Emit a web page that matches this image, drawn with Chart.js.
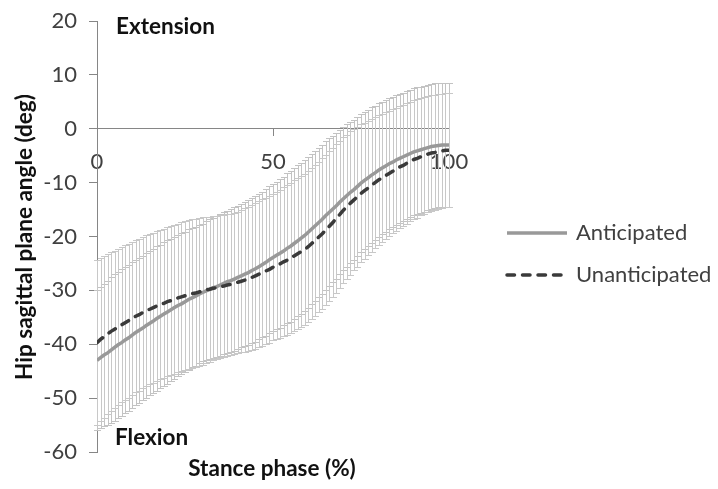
<!DOCTYPE html>
<html>
<head>
<meta charset="utf-8">
<script src="https://cdn.jsdelivr.net/npm/chart.js@4"></script>
<style>
html,body{margin:0;padding:0;background:#fff;}
#wrap{width:718px;height:489px;position:relative;}
</style>
</head>
<body>
<div id="wrap"><canvas id="c" width="718" height="489"></canvas></div>
<script>
// Stance phase 0..100 % (one value per percent)
const antMean = [-43.0,-42.5,-42.0,-41.6,-41.1,-40.6, -40.1,-39.7,-39.2,-38.8,-38.3, -37.8,-37.4,-37.0,-36.5,-36.1, -35.7,-35.2,-34.8,-34.4,-34.0, -33.6,-33.2,-32.8,-32.5,-32.1, -31.7,-31.4,-31.1,-30.7,-30.4, -30.1,-29.8,-29.5,-29.3,-29.0, -28.7,-28.4,-28.2,-27.9,-27.6, -27.3,-27.0,-26.7,-26.3,-26.0, -25.6,-25.2,-24.8,-24.3,-23.9, -23.5,-23.1,-22.7,-22.2,-21.8, -21.3,-20.8,-20.3,-19.8,-19.2, -18.6,-18.0,-17.4,-16.8,-16.1, -15.5,-14.9,-14.3,-13.6,-13.0, -12.4,-11.8,-11.3,-10.7,-10.1, -9.6,-9.1,-8.6,-8.2,-7.7, -7.3,-6.9,-6.5,-6.2,-5.8, -5.5,-5.2,-4.9,-4.6,-4.3, -4.1,-3.9,-3.7,-3.5,-3.3, -3.2,-3.1,-3.0,-3.0,-3.0];
const antSD = [13.0,13.1,13.2,13.4,13.5,13.6, 13.6,13.6,13.5,13.5,13.5, 13.5,13.5,13.4,13.4,13.4, 13.4,13.4,13.3,13.3,13.3, 13.2,13.2,13.1,13.1,13.0, 13.0,12.9,12.9,12.8,12.8, 12.9,13.0,13.0,13.1,13.2, 13.2,13.2,13.3,13.3,13.3, 13.3,13.4,13.4,13.5,13.5, 13.5,13.5,13.6,13.6,13.6, 13.7,13.8,13.8,13.9,14.0, 14.0,14.0,14.0,14.0,14.0, 14.0,13.9,13.9,13.8,13.8, 13.7,13.6,13.5,13.4,13.3, 13.2,13.1,13.0,12.9,12.8, 12.7,12.6,12.6,12.5,12.4, 12.3,12.2,12.2,12.1,12.0, 12.0,11.9,11.9,11.8,11.8, 11.8,11.7,11.7,11.6,11.6, 11.6,11.5,11.5,11.5,11.5];
const unaMean = [-39.7,-39.1,-38.6,-38.1,-37.6,-37.2, -36.8,-36.4,-36.0,-35.6,-35.2, -34.8,-34.5,-34.1,-33.8,-33.5, -33.2,-32.9,-32.6,-32.4,-32.1, -31.9,-31.7,-31.4,-31.2,-31.0, -30.8,-30.6,-30.5,-30.3,-30.1, -29.9,-29.8,-29.6,-29.5,-29.3, -29.2,-29.0,-28.9,-28.7,-28.5, -28.3,-28.1,-27.9,-27.6,-27.3, -27.0,-26.7,-26.4,-26.1,-25.7, -25.4,-25.1,-24.7,-24.4,-24.0, -23.6,-23.2,-22.8,-22.4,-21.9, -21.3,-20.7,-20.1,-19.5,-18.8, -18.1,-17.4,-16.6,-15.9,-15.1, -14.5,-13.8,-13.2,-12.6,-12.0, -11.5,-11.0,-10.5,-10.0,-9.5, -9.1,-8.7,-8.3,-7.9,-7.5, -7.1,-6.8,-6.4,-6.1,-5.7, -5.5,-5.2,-5.0,-4.7,-4.5, -4.4,-4.2,-4.1,-4.0,-4.0];
const unaSD = [15.3,15.2,15.0,14.9,14.7,14.6, 14.5,14.4,14.4,14.3,14.2, 14.1,14.1,14.0,14.0,13.9, 13.9,13.9,13.8,13.8,13.8, 13.8,13.8,13.8,13.8,13.8, 13.8,13.8,13.7,13.7,13.7, 13.6,13.5,13.4,13.3,13.2, 13.2,13.1,13.1,13.1,13.1, 13.2,13.3,13.4,13.5,13.6, 13.6,13.6,13.6,13.6,13.6, 13.7,13.8,13.8,13.9,14.0, 14.0,14.0,14.0,14.0,14.0, 14.0,14.0,14.0,14.0,14.0, 13.9,13.8,13.8,13.7,13.6, 13.4,13.3,13.1,13.0,12.8, 12.6,12.5,12.3,12.2,12.0, 11.9,11.8,11.6,11.5,11.4, 11.3,11.2,11.2,11.1,11.0, 11.0,10.9,10.9,10.8,10.8, 10.7,10.7,10.6,10.6,10.6];

const seriesNames = ['Anticipated', 'Unanticipated'];
const xTickValues = [0, 50, 100];
const yTickMin = -60, yTickMax = 20, yTickStep = 10;
const yTitle = 'Hip sagittal plane angle (deg)';
const xTitle = 'Stance phase (%)';
const topNote = 'Extension';
const bottomNote = 'Flexion';

const FONT = 'Lato, "Open Sans", sans-serif';

const toPts = arr => arr.map((v, i) => ({x: i, y: v}));

const errorBars = {
  id: 'errorBars',
  beforeDatasetsDraw(chart) {
    const {ctx, scales: {x, y}} = chart;
    ctx.save();
    ctx.lineWidth = 1;
    chart.data.datasets.slice().reverse().forEach(ds => {
      ctx.strokeStyle = ds.barColor;
      ctx.beginPath();
      ds.data.forEach((p, i) => {
        const s = ds.sd[i];
        const px = Math.round(x.getPixelForValue(p.x)) + 0.5;
        const yt = Math.round(y.getPixelForValue(p.y + s)) + 0.5;
        const yb = Math.round(y.getPixelForValue(p.y - s)) + 0.5;
        ctx.moveTo(px, yt); ctx.lineTo(px, yb);
        ctx.moveTo(px - 3.5, yt); ctx.lineTo(px + 3.5, yt);
        ctx.moveTo(px - 3.5, yb); ctx.lineTo(px + 3.5, yb);
      });
      ctx.stroke();
    });
    ctx.restore();
  }
};

const overlay = {
  id: 'overlay',
  afterDraw(chart) {
    const {ctx} = chart;
    ctx.save();
    ctx.fillStyle = '#111';
    ctx.font = 'bold 22.5px ' + FONT;
    ctx.textBaseline = 'middle';
    ctx.textAlign = 'left';
    ctx.fillText(topNote, 116, 27);
    ctx.fillText(bottomNote, 115, 438);
    ctx.textAlign = 'center';
    ctx.fillText(xTitle, 272, 469);
    ctx.save();
    ctx.font = 'bold 22.5px ' + FONT;
    ctx.translate(25, 237);
    ctx.rotate(-Math.PI / 2);
    ctx.fillText(yTitle, 0, 0);
    ctx.restore();

    // legend
    const items = [
      {ds: chart.data.datasets[1], y: 233},
      {ds: chart.data.datasets[0], y: 275}
    ];
    items.forEach(it => {
      ctx.save();
      ctx.strokeStyle = it.ds.borderColor;
      ctx.lineWidth = it.ds.borderWidth;
      ctx.lineCap = it.ds.borderCapStyle || 'butt';
      ctx.setLineDash(it.ds.borderDash || []);
      ctx.beginPath();
      ctx.moveTo(507, it.y); ctx.lineTo(567, it.y);
      ctx.stroke();
      ctx.restore();
      ctx.fillStyle = '#404040';
      ctx.font = '22px ' + FONT;
      ctx.textAlign = 'left';
      ctx.fillText(it.ds.label, 576, it.y);
    });
    ctx.restore();
  }
};

new Chart(document.getElementById('c'), {
  type: 'line',
  data: {
    datasets: [
      {
        label: seriesNames[1],
        data: toPts(unaMean),
        sd: unaSD,
        barColor: '#c8c8c8',
        borderColor: '#3a3a3a',
        borderWidth: 3.5,
        borderDash: [7.5, 8],
        borderCapStyle: 'round',
        pointRadius: 0,
        tension: 0,
        fill: false
      },
      {
        label: seriesNames[0],
        data: toPts(antMean),
        sd: antSD,
        barColor: '#c3c3c3',
        borderColor: '#999999',
        borderWidth: 3.5,
        pointRadius: 0,
        tension: 0,
        fill: false
      }
    ]
  },
  options: {
    responsive: false,
    animation: false,
    devicePixelRatio: 1,
    layout: {padding: {left: 0, top: 21, right: 269, bottom: 37}},
    plugins: {legend: {display: false}, tooltip: {enabled: false}},
    scales: {
      x: {
        type: 'linear',
        position: {y: 0},
        min: 0, max: 100,
        afterBuildTicks: s => { s.ticks = xTickValues.map(v => ({value: v})); },
        afterFit: s => { s.paddingLeft = 0; s.paddingRight = 0; },
        ticks: {color: '#404040', font: {family: FONT, size: 22}, padding: 13, maxRotation: 0, autoSkip: false},
        grid: {display: true, drawOnChartArea: false, drawTicks: true, tickLength: 7, color: '#868686'},
        border: {display: true, color: '#868686', width: 1}
      },
      y: {
        type: 'linear',
        position: 'left',
        min: yTickMin, max: yTickMax,
        afterFit: s => { s.width = 97; s.paddingTop = 0; s.paddingBottom = 0; },
        ticks: {stepSize: yTickStep, color: '#404040', font: {family: FONT, size: 22}, padding: 12},
        grid: {display: true, drawOnChartArea: false, drawTicks: true, tickLength: 8, color: '#868686'},
        border: {display: true, color: '#868686', width: 1}
      }
    }
  },
  plugins: [errorBars, overlay]
});
</script>
</body>
</html>
